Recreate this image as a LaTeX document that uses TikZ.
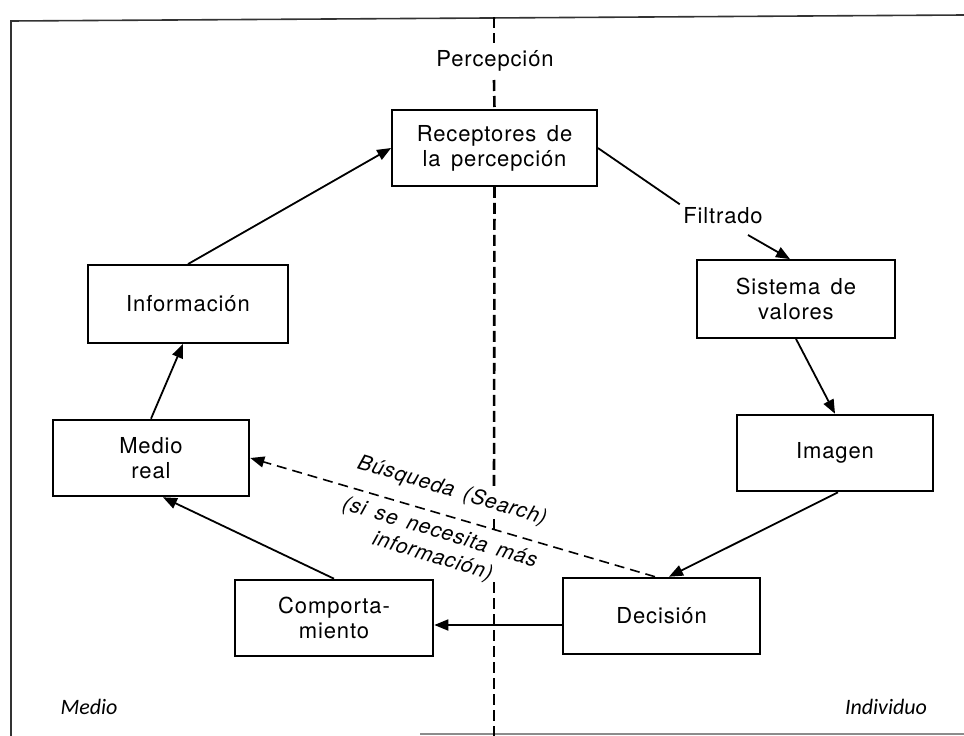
\documentclass[tikz,border=0pt]{standalone}
\usepackage{fontspec}
\setmainfont{TeX Gyre Heros}[LetterSpace=4, WordSpace=1.5]
\newfontfamily\labfont{Carlito}
\usetikzlibrary{arrows.meta}
\begin{document}
\begin{tikzpicture}[x=1pt,y=-1pt,
  every node/.style={font=\fontsize{22}{25}\selectfont},
  box/.style={draw, line width=1.8pt, minimum height=76pt, align=center, inner sep=0pt},
  boldbox/.style={box, line width=2.6pt},
  conn/.style={line width=1.8pt, -{Triangle[length=14pt,width=11pt]}},
  plain/.style={line width=1.8pt},
  search/.style={line width=1.6pt, dash pattern=on 10pt off 6pt, -{Triangle[length=14pt,width=11pt]}},
  divider/.style={line width=2.6pt, dash pattern=on 11pt off 5pt},
  frame/.style={line width=1.6pt, black!80},
  sidelabel/.style={font=\labfont\itshape\fontsize{22}{25}\selectfont},
  searchlabel/.style={rotate=-16.75, align=center, font=\itshape\fontsize{21}{25}\selectfont}
]
\useasboundingbox (0,0) rectangle (964,736);
\fill[white] (0,0) rectangle (964,736);

% frame
\draw[frame] (11,736) -- (11,21) -- (964,15);
\draw[line width=1.4pt, black!45] (420,734) -- (964,734);

% boxes
\node[box, minimum width=205pt] (rec) at (494.5,148) {Receptores de\\la percepción};
\node[box, minimum width=200pt, minimum height=78pt] (info) at (188,304) {Información};
\node[box, minimum width=198pt, minimum height=78pt] (sis) at (796,299) {Sistema de\\valores};
\node[boldbox, minimum width=196pt] (med) at (151,458) {Medio\\real};
\node[boldbox, minimum width=196pt] (img) at (835,453) {Imagen};
\node[boldbox, minimum width=198pt] (comp) at (334,618) {Comporta-\\miento};
\node[boldbox, minimum width=197pt] (dec) at (661.5,616) {Decisión};

% labels
\node (perc) at (495,61) {Percepción};
\node (filt) at (723,216) {Filtrado};
\coordinate (fstart) at (748,235);
\node[sidelabel] (lmedio) at (89,707) {Medio};
\node[sidelabel] (lind) at (886,707) {Individuo};

% divider
\coordinate (d0) at (494,17);
\coordinate (d1) at (494,43);
\coordinate (d2) at (494,80);
\coordinate (d3) at (494,488);
\coordinate (d4) at (494,519);
\coordinate (d5) at (494,529);
\coordinate (d6) at (494,582);
\coordinate (d7) at (494,736);
\draw[divider] (d0) -- (d1);
\draw[divider] (d2) -- (rec.north);
\draw[divider] (rec.south) -- (d3);
\draw[line width=2pt] (d4) -- (d5);
\draw[divider] (d6) -- (d7);

% connectors
\draw[conn] (info.north) -- (rec.west);
\draw[plain] (rec.east) -- (filt.north west);
\draw[conn] (fstart) -- (790,0 |- sis.north);
\draw[conn] (sis.south) -- (img.north);
\draw[conn] (838,0 |- img.south) -- (669,0 |- dec.north);
\draw[search] (655,0 |- dec.north) -- (med.east);
\draw[conn] (dec.west |- 0,625) -- (comp.east |- 0,625);
\draw[conn] (comp.north) -- (163,0 |- med.south);
\draw[conn] (med.north) -- (183,0 |- info.south);

% search label
\node[searchlabel] (s1) at (452,491) {Búsqueda (Search)};
\node[searchlabel] (s2) at (436,545) {(si se necesita más\\información)};
\end{tikzpicture}
\end{document}
